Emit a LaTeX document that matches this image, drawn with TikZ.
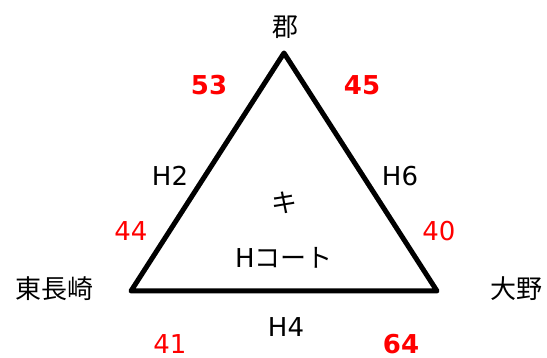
\documentclass[tikz,border=0pt]{standalone}
\usepackage{fontspec}
\setmainfont{DejaVu Sans}
\newfontfamily\jp{Noto Sans CJK JP}
\definecolor{numred}{HTML}{FF0000}
\begin{document}
\begin{tikzpicture}[x=1pt,y=-1pt,
  lbl/.style={inner sep=0pt,font=\fontsize{26}{30}\selectfont},
  jlbl/.style={inner sep=0pt,font=\jp\fontsize{26}{30}\selectfont},
  rn/.style={inner sep=0pt,text=numred,font=\fontsize{26}{30}\selectfont},
  rb/.style={inner sep=0pt,text=numred,font=\bfseries\fontsize{26}{30}\selectfont},
  edge/.style={line width=5pt,line join=round}]
\useasboundingbox (0,0) rectangle (547,358);
\coordinate (A) at (284,53);
\coordinate (B) at (131,291);
\coordinate (C) at (437,291);
\draw[edge] (A) -- (B) -- (C) -- cycle;
\node[jlbl] (gun) at (285,27) {郡};
\node[jlbl] (hig) at (55,289) {東長崎};
\node[jlbl] (ono) at (516,289) {大野};
\node[rb] (n53) at (209,85) {53};
\node[rb] (n45) at (362,85) {45};
\node[lbl] (h2) at (170,176) {H2};
\node[lbl] (h6) at (400,176) {H6};
\node[rn] (n44) at (131,231) {44};
\node[rn] (n40) at (439,231) {40};
\node[jlbl] (ki) at (284,203) {キ};
\node[lbl] (hc) at (284,258) {H{\jp コート}};
\node[lbl] (h4) at (286,327) {H4};
\node[rn] (n41) at (170,344) {41};
\node[rb] (n64) at (401,344) {64};
\end{tikzpicture}
\end{document}
